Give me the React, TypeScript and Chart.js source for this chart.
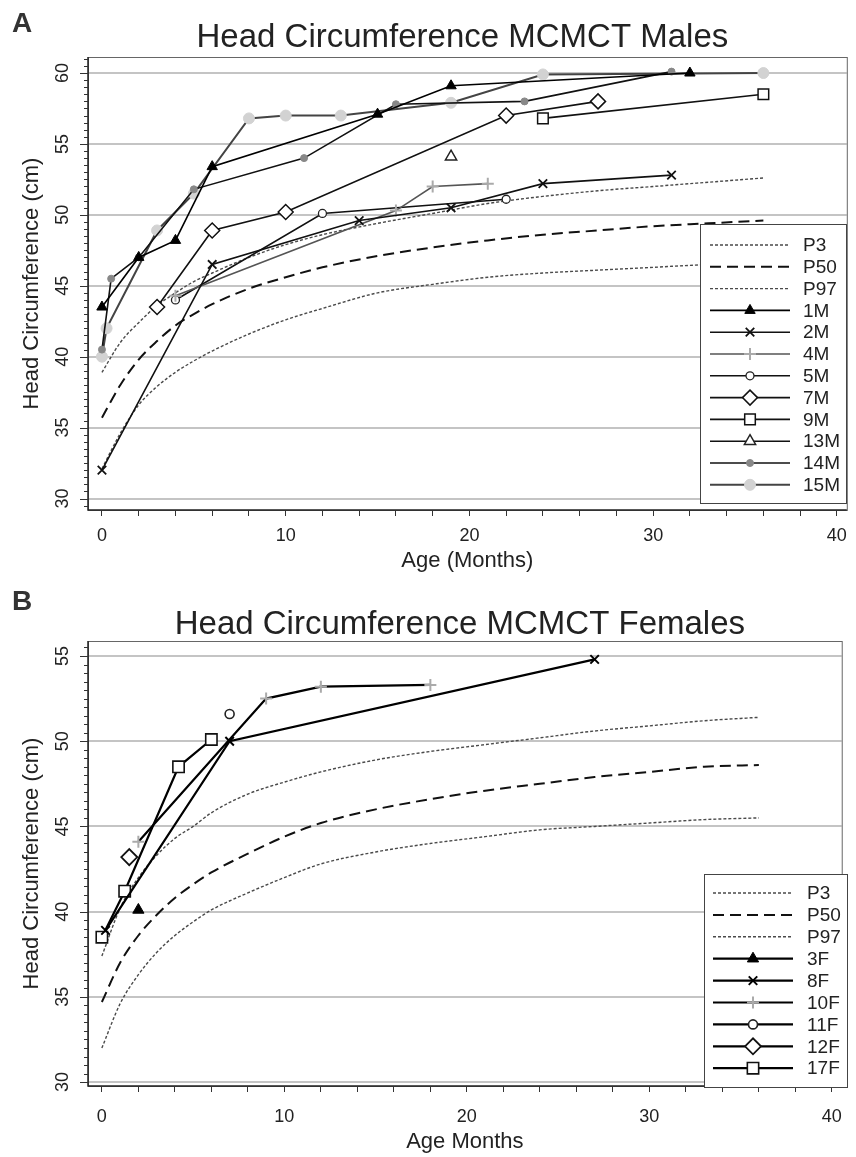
import React, { useEffect, useRef } from 'react';
import { Chart, registerables } from 'chart.js';

Chart.register(...registerables);

const FONT = '"Liberation Sans", Arial, Helvetica, sans-serif';
const W = 856;

// ---------- DATA ----------
const xTickLabels = [0, 10, 20, 30, 40];
const maleYTickLabels = [30, 35, 40, 45, 50, 55, 60];
const femaleYTickLabels = [30, 35, 40, 45, 50, 55];

const curveAges = [0, 1, 2, 3, 4, 5, 6, 8, 10, 12, 15, 18, 21, 24, 27, 30, 33, 36];

const maleP3 = [32.1, 34.6, 36.6, 37.9, 38.9, 39.7, 40.4, 41.6, 42.6, 43.4, 44.5, 45.1, 45.6, 45.9, 46.1, 46.3, 46.5, 46.6];
const maleP50 = [35.7, 38.0, 39.8, 41.1, 42.2, 43.0, 43.7, 44.8, 45.6, 46.3, 47.1, 47.7, 48.2, 48.6, 48.9, 49.2, 49.4, 49.6];
const maleP97 = [38.9, 41.0, 42.4, 43.6, 44.5, 45.3, 45.9, 47.0, 47.9, 48.6, 49.4, 50.1, 50.8, 51.3, 51.7, 52.0, 52.3, 52.6];

const femaleP3 = [32.0, 34.6, 36.3, 37.6, 38.6, 39.4, 40.1, 41.1, 42.0, 42.8, 43.5, 44.0, 44.4, 44.8, 45.0, 45.2, 45.4, 45.5];
const femaleP50 = [34.7, 37.0, 38.6, 39.8, 40.8, 41.6, 42.3, 43.4, 44.4, 45.2, 46.0, 46.6, 47.1, 47.5, 47.9, 48.2, 48.5, 48.6];
const femaleP97 = [37.4, 40.2, 42.0, 43.3, 44.3, 45.0, 45.8, 46.9, 47.6, 48.2, 48.9, 49.4, 49.8, 50.2, 50.6, 50.9, 51.2, 51.4];

const m1MAge = [0, 2, 4, 6, 15, 19, 32];
const m1MVal = [43.5, 47.0, 48.2, 53.4, 57.1, 59.1, 60.0];
const m2MAge = [0, 6, 14, 19, 24, 31];
const m2MVal = [32.0, 46.5, 49.6, 50.5, 52.2, 52.8];
const m4MAge = [4, 16, 18, 21];
const m4MVal = [44.3, 50.3, 52.0, 52.2];
const m5MAge = [4, 12, 22];
const m5MVal = [44.0, 50.1, 51.1];
const m7MAge = [3, 6, 10, 22, 27];
const m7MVal = [43.5, 48.9, 50.2, 57.0, 58.0];
const m9MAge = [24, 36];
const m9MVal = [56.8, 58.5];
const m13MAge = [19];
const m13MVal = [54.1];
const m14MAge = [0, 0.5, 2, 5, 11, 16, 23, 31];
const m14MVal = [40.5, 45.5, 47.0, 51.8, 54.0, 57.8, 58.0, 60.1];
const m15MAge = [0, 0.25, 3, 5, 8, 10, 13, 19, 24, 36];
const m15MVal = [40.0, 42.0, 48.9, 51.5, 56.8, 57.0, 57.0, 57.9, 59.9, 60.0];

const f3FAge = [2];
const f3FVal = [40.1];
const f8FAge = [0.2, 7, 27];
const f8FVal = [38.9, 50.0, 54.8];
const f10FAge = [2, 9, 12, 18];
const f10FVal = [44.1, 52.5, 53.2, 53.3];
const f11FAge = [7];
const f11FVal = [51.6];
const f12FAge = [1.5];
const f12FVal = [43.2];
const f17FAge = [0, 1.25, 4.2, 6];
const f17FVal = [38.5, 41.2, 48.5, 50.1];

// ---------- STYLES ----------
type St = { shape: string; r: number; fill: string; stroke: string; pw: number; line: string; lw: number };

const maleStyles: Record<string, St> = {
  '1M': { shape: 'triangle', r: 6, fill: '#000', stroke: '#000', pw: 1, line: '#000', lw: 1.6 },
  '2M': { shape: 'crossRot', r: 6, fill: '#000', stroke: '#111', pw: 1.8, line: '#111', lw: 1.6 },
  '4M': { shape: 'cross', r: 6, fill: '#aaa', stroke: '#aaa', pw: 2, line: '#555', lw: 1.6 },
  '5M': { shape: 'circle', r: 4, fill: '#fff', stroke: '#222', pw: 1.3, line: '#111', lw: 1.6 },
  '7M': { shape: 'rectRot', r: 7.5, fill: '#fff', stroke: '#111', pw: 1.5, line: '#111', lw: 1.6 },
  '9M': { shape: 'rect', r: 7.5, fill: '#fff', stroke: '#111', pw: 1.5, line: '#111', lw: 1.6 },
  '13M': { shape: 'triangle', r: 6.5, fill: '#fff', stroke: '#222', pw: 1.5, line: '#111', lw: 1.6 },
  '14M': { shape: 'circle', r: 3.5, fill: '#888', stroke: '#888', pw: 1, line: '#111', lw: 1.6 },
  '15M': { shape: 'circle', r: 5.5, fill: '#d2d2d2', stroke: '#d2d2d2', pw: 1, line: '#444', lw: 2 },
};
const femaleStyles: Record<string, St> = {
  '3F': { shape: 'triangle', r: 6.5, fill: '#000', stroke: '#000', pw: 1, line: '#000', lw: 2.2 },
  '8F': { shape: 'crossRot', r: 6, fill: '#000', stroke: '#000', pw: 2, line: '#000', lw: 2.2 },
  '10F': { shape: 'cross', r: 6, fill: '#aaa', stroke: '#aaa', pw: 2, line: '#000', lw: 2.2 },
  '11F': { shape: 'circle', r: 4.5, fill: '#fff', stroke: '#222', pw: 1.6, line: '#000', lw: 2.2 },
  '12F': { shape: 'rectRot', r: 8, fill: '#fff', stroke: '#111', pw: 1.8, line: '#000', lw: 2.2 },
  '17F': { shape: 'rect', r: 8, fill: '#fff', stroke: '#111', pw: 1.6, line: '#000', lw: 2.2 },
};

function curveDs(label: string, ages: number[], vals: number[], dashed: boolean) {
  return {
    label,
    data: ages.map((a, i) => ({ x: a, y: vals[i] })),
    borderColor: dashed ? '#111' : '#4a4a4a',
    borderWidth: dashed ? 2 : 1.4,
    borderDash: dashed ? [11, 6] : [3, 2],
    pointRadius: 0,
    cubicInterpolationMode: 'monotone',
    fill: false,
    order: 5,
  };
}

function seriesDs(label: string, ages: number[], vals: number[], st: St) {
  return {
    label,
    data: ages.map((a, i) => ({ x: a, y: vals[i] })),
    borderColor: st.line,
    borderWidth: st.lw,
    pointStyle: st.shape,
    pointRadius: st.r,
    pointHoverRadius: st.r,
    pointBorderColor: st.stroke,
    pointBackgroundColor: st.fill,
    pointBorderWidth: st.pw,
    tension: 0,
    fill: false,
    order: 1,
  };
}

function drawMarker(ctx: CanvasRenderingContext2D, shape: string, x: number, y: number, r: number, fill: string, stroke: string, lw: number) {
  ctx.save();
  ctx.beginPath();
  ctx.setLineDash([]);
  if (shape === 'circle') ctx.arc(x, y, r, 0, Math.PI * 2);
  else if (shape === 'triangle') {
    for (let i = 0; i < 3; i++) {
      const a = (i * 2 * Math.PI) / 3;
      const px = x + Math.sin(a) * r;
      const py = y - Math.cos(a) * r;
      if (i === 0) ctx.moveTo(px, py);
      else ctx.lineTo(px, py);
    }
    ctx.closePath();
  } else if (shape === 'rect') {
    const s = r * Math.SQRT1_2;
    ctx.rect(x - s, y - s, 2 * s, 2 * s);
  } else if (shape === 'rectRot') {
    ctx.moveTo(x - r, y);
    ctx.lineTo(x, y - r);
    ctx.lineTo(x + r, y);
    ctx.lineTo(x, y + r);
    ctx.closePath();
  } else if (shape === 'cross') {
    ctx.moveTo(x, y - r);
    ctx.lineTo(x, y + r);
    ctx.moveTo(x - r, y);
    ctx.lineTo(x + r, y);
  } else if (shape === 'crossRot') {
    const s = r * Math.SQRT1_2;
    ctx.moveTo(x - s, y - s);
    ctx.lineTo(x + s, y + s);
    ctx.moveTo(x - s, y + s);
    ctx.lineTo(x + s, y - s);
  }
  if (shape !== 'cross' && shape !== 'crossRot') {
    ctx.fillStyle = fill;
    ctx.fill();
  }
  ctx.strokeStyle = stroke;
  ctx.lineWidth = lw;
  ctx.stroke();
  ctx.restore();
}

type PanelCfg = {
  height: number;
  letter: string;
  title: string;
  titleBaseline: number;
  xTitle: string;
  xTitleY: number;
  yTitle: string;
  area: { left: number; right: number; top: number; bottom: number };
  xMin: number;
  xMax: number;
  yMin: number;
  yMax: number;
  yLabels: number[];
  xLabelPad: number;
  legend: { x1: number; y1: number; x2: number; y2: number; firstY: number; step: number; lx1: number; lx2: number; textX: number };
  datasets: any[];
};

const maleCfg: PanelCfg = {
  height: 578,
  letter: 'A',
  title: 'Head Circumference MCMCT Males',
  titleBaseline: 47,
  xTitle: 'Age (Months)',
  xTitleY: 561,
  yTitle: 'Head Circumference (cm)',
  area: { left: 88, right: 848, top: 57, bottom: 510 },
  xMin: -0.76,
  xMax: 40.54,
  yMin: 29.19,
  yMax: 61.13,
  yLabels: maleYTickLabels,
  xLabelPad: 9,
  legend: { x1: 700, y1: 224, x2: 846, y2: 503, firstY: 245, step: 21.8, lx1: 710, lx2: 790, textX: 803 },
  datasets: [
    curveDs('P3', curveAges, maleP3, false),
    curveDs('P50', curveAges, maleP50, true),
    curveDs('P97', curveAges, maleP97, false),
    seriesDs('1M', m1MAge, m1MVal, maleStyles['1M']),
    seriesDs('2M', m2MAge, m2MVal, maleStyles['2M']),
    seriesDs('4M', m4MAge, m4MVal, maleStyles['4M']),
    seriesDs('5M', m5MAge, m5MVal, maleStyles['5M']),
    seriesDs('7M', m7MAge, m7MVal, maleStyles['7M']),
    seriesDs('9M', m9MAge, m9MVal, maleStyles['9M']),
    seriesDs('13M', m13MAge, m13MVal, maleStyles['13M']),
    seriesDs('14M', m14MAge, m14MVal, maleStyles['14M']),
    seriesDs('15M', m15MAge, m15MVal, maleStyles['15M']),
  ],
};

const femaleCfg: PanelCfg = {
  height: 579,
  letter: 'B',
  title: 'Head Circumference MCMCT Females',
  titleBaseline: 56,
  xTitle: 'Age Months',
  xTitleY: 564,
  yTitle: 'Head Circumference (cm)',
  area: { left: 88, right: 848, top: 63, bottom: 508 },
  xMin: -0.76,
  xMax: 40.54,
  yMin: 29.77,
  yMax: 55.88,
  yLabels: femaleYTickLabels,
  xLabelPad: 14,
  legend: { x1: 704, y1: 296, x2: 847, y2: 509, firstY: 315, step: 21.9, lx1: 713, lx2: 793, textX: 807 },
  datasets: [
    curveDs('P3', curveAges, femaleP3, false),
    curveDs('P50', curveAges, femaleP50, true),
    curveDs('P97', curveAges, femaleP97, false),
    seriesDs('3F', f3FAge, f3FVal, femaleStyles['3F']),
    seriesDs('8F', f8FAge, f8FVal, femaleStyles['8F']),
    seriesDs('10F', f10FAge, f10FVal, femaleStyles['10F']),
    seriesDs('11F', f11FAge, f11FVal, femaleStyles['11F']),
    seriesDs('12F', f12FAge, f12FVal, femaleStyles['12F']),
    seriesDs('17F', f17FAge, f17FVal, femaleStyles['17F']),
  ],
};

function decorPlugin(cfg: PanelCfg) {
  return {
    id: 'decor' + cfg.letter,
    afterDraw(chart: any) {
      const ctx: CanvasRenderingContext2D = chart.ctx;
      const a = chart.chartArea;
      const ys = chart.scales.y;
      ctx.save();
      // plot box
      ctx.strokeStyle = '#666';
      ctx.lineWidth = 1;
      ctx.strokeRect(a.left + 0.5, a.top + 0.5, a.right - a.left, a.bottom - a.top);
      ctx.strokeStyle = '#222';
      ctx.lineWidth = 1.5;
      ctx.beginPath();
      ctx.moveTo(a.left, a.top);
      ctx.lineTo(a.left, a.bottom);
      ctx.lineTo(a.right, a.bottom);
      ctx.stroke();
      // y ticks
      ctx.strokeStyle = '#333';
      ctx.lineWidth = 1;
      for (let k = Math.ceil(ys.min * 2); k <= Math.floor(ys.max * 2); k++) {
        const py = Math.round(ys.getPixelForValue(k / 2)) + 0.5;
        const major = k % 10 === 0;
        ctx.beginPath();
        ctx.moveTo(a.left - (major ? 8 : 4), py);
        ctx.lineTo(a.left, py);
        ctx.stroke();
      }
      // y labels (rotated)
      ctx.fillStyle = '#222';
      ctx.font = `18px ${FONT}`;
      ctx.textAlign = 'center';
      ctx.textBaseline = 'middle';
      for (const v of cfg.yLabels) {
        const py = ys.getPixelForValue(v);
        ctx.save();
        ctx.translate(63, py);
        ctx.rotate(-Math.PI / 2);
        ctx.fillText(String(v), 0, 0);
        ctx.restore();
      }
      // y title
      ctx.font = `22px ${FONT}`;
      ctx.save();
      ctx.translate(32, (a.top + a.bottom) / 2);
      ctx.rotate(-Math.PI / 2);
      ctx.fillText(cfg.yTitle, 0, 0);
      ctx.restore();
      // x title
      ctx.fillText(cfg.xTitle, (a.left + a.right) / 2, cfg.xTitleY);
      // main title
      ctx.font = `33px ${FONT}`;
      ctx.textBaseline = 'alphabetic';
      ctx.fillText(cfg.title, (a.left + a.right) / 2 - 5, cfg.titleBaseline);
      // panel letter
      ctx.font = `bold 28px ${FONT}`;
      ctx.textAlign = 'left';
      ctx.fillStyle = '#333';
      ctx.fillText(cfg.letter, 12, 32);
      // legend
      const lg = cfg.legend;
      ctx.fillStyle = '#fff';
      ctx.fillRect(lg.x1, lg.y1, lg.x2 - lg.x1, lg.y2 - lg.y1);
      ctx.strokeStyle = '#444';
      ctx.lineWidth = 1;
      ctx.strokeRect(lg.x1 + 0.5, lg.y1 + 0.5, lg.x2 - lg.x1, lg.y2 - lg.y1);
      ctx.font = `19px ${FONT}`;
      ctx.textBaseline = 'middle';
      ctx.textAlign = 'left';
      chart.data.datasets.forEach((ds: any, i: number) => {
        const y = lg.firstY + i * lg.step;
        ctx.save();
        ctx.strokeStyle = ds.borderColor;
        ctx.lineWidth = ds.borderWidth;
        ctx.setLineDash(ds.borderDash || []);
        ctx.beginPath();
        ctx.moveTo(lg.lx1, y);
        ctx.lineTo(lg.lx2, y);
        ctx.stroke();
        ctx.restore();
        if (ds.pointRadius > 0) {
          drawMarker(ctx, ds.pointStyle, (lg.lx1 + lg.lx2) / 2, y, ds.pointRadius, ds.pointBackgroundColor, ds.pointBorderColor, ds.pointBorderWidth);
        }
        ctx.fillStyle = '#222';
        ctx.fillText(ds.label, lg.textX, y + 1);
      });
      ctx.restore();
    },
  };
}

function buildConfig(cfg: PanelCfg): any {
  const xTicks: number[] = [];
  for (let v = 0; v <= 40; v += 2) xTicks.push(v);
  return {
    type: 'line',
    data: { datasets: cfg.datasets },
    options: {
      animation: false,
      responsive: false,
      maintainAspectRatio: false,
      layout: { padding: { left: 0, right: W - cfg.area.right, top: cfg.area.top, bottom: 0 } },
      plugins: { legend: { display: false }, title: { display: false }, tooltip: { enabled: false } },
      scales: {
        x: {
          type: 'linear',
          min: cfg.xMin,
          max: cfg.xMax,
          afterBuildTicks: (s: any) => {
            s.ticks = xTicks.map((v) => ({ value: v }));
          },
          afterFit: (s: any) => {
            s.height = cfg.height - cfg.area.bottom;
          },
          border: { display: false },
          grid: { drawOnChartArea: false, drawTicks: true, tickLength: 6, tickColor: '#333', tickWidth: 1 },
          ticks: {
            autoSkip: false,
            maxRotation: 0,
            minRotation: 0,
            padding: cfg.xLabelPad,
            color: '#222',
            font: { family: FONT, size: 18 },
            callback: (v: number) => (xTickLabels.includes(v) ? String(v) : ''),
          },
        },
        y: {
          type: 'linear',
          min: cfg.yMin,
          max: cfg.yMax,
          afterBuildTicks: (s: any) => {
            s.ticks = cfg.yLabels.map((v) => ({ value: v }));
          },
          afterFit: (s: any) => {
            s.width = cfg.area.left;
          },
          border: { display: false },
          grid: { color: '#c4c4c4', lineWidth: 2, drawTicks: false },
          ticks: { display: false },
        },
      },
    },
    plugins: [decorPlugin(cfg)],
  };
}

function Panel({ cfg }: { cfg: PanelCfg }) {
  const ref = useRef<HTMLCanvasElement>(null);
  useEffect(() => {
    const chart = new Chart(ref.current as HTMLCanvasElement, buildConfig(cfg));
    return () => chart.destroy();
  }, [cfg]);
  return <canvas ref={ref} width={W} height={cfg.height} style={{ display: 'block', width: W, height: cfg.height }} />;
}

export default function App() {
  useEffect(() => {
    document.body.style.margin = '0';
  }, []);
  return (
    <div style={{ width: W, background: '#fff' }}>
      <Panel cfg={maleCfg} />
      <Panel cfg={femaleCfg} />
    </div>
  );
}
